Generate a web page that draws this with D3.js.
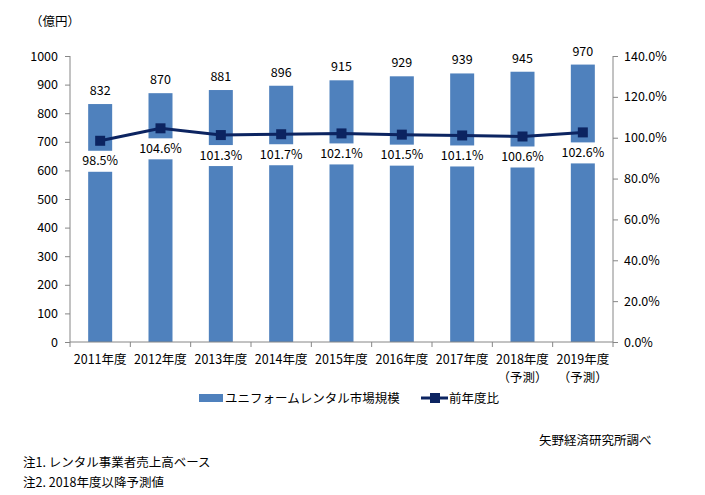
<!DOCTYPE html>
<html><head><meta charset="utf-8">
<script src="https://cdn.jsdelivr.net/npm/d3@7"></script>
<style>body{margin:0;background:#fff}svg{display:block}text{font-family:"Noto Sans CJK JP","Noto Sans",sans-serif;fill:#000}</style>
</head><body><svg id="c" width="705" height="495"></svg>
<script>
const categories=["2011年度","2012年度","2013年度","2014年度","2015年度","2016年度","2017年度","2018年度","2019年度"];
const subLabels=["","","","","","","","（予測）","（予測）"];
const marketSize=[832,870,881,896,915,929,939,945,970];
const yoyRatio=[98.5,104.6,101.3,101.7,102.1,101.5,101.1,100.6,102.6];
const leftTicks=[0,100,200,300,400,500,600,700,800,900,1000];
const rightTicks=[0,20,40,60,80,100,120,140];
const seriesNames=["ユニフォームレンタル市場規模","前年度比"];

const svg=d3.select("#c");
const L=70,R=613,T=56,B=342;
const barColor="#4f81bd",lineColor="#0c2461",axisColor="#868686";
const x=d3.scaleBand().domain(categories).range([L,R]).paddingInner(0).paddingOuter(0);
const yL=d3.scaleLinear().domain([0,1000]).range([B,T]);
const yR=d3.scaleLinear().domain([0,140]).range([B,T]);
const bw=24;

// axes
const gl=svg.append("g").attr("transform",`translate(${L},0)`).call(d3.axisLeft(yL).tickValues(leftTicks).tickSize(5).tickPadding(7).tickFormat(d=>String(d)));
const gr=svg.append("g").attr("transform",`translate(${R},0)`).call(d3.axisRight(yR).tickValues(rightTicks).tickSize(5).tickPadding(6).tickFormat(d=>d.toFixed(1)+"%"));
[gl,gr].forEach(g=>{g.selectAll("path,line").attr("stroke",axisColor);g.selectAll("text").attr("font-size",12.5).attr("font-family","'Noto Sans CJK JP',sans-serif").attr("fill","#000");});
gl.select(".domain").attr("d",`M0,${B}V${T}`);
gr.select(".domain").attr("d",`M0,${B}V${T}`);

// bars
svg.append("g").selectAll("rect").data(marketSize).join("rect")
  .attr("x",(d,i)=>x(categories[i])+x.bandwidth()/2-bw/2).attr("width",bw)
  .attr("y",d=>yL(d)).attr("height",d=>B-yL(d)).attr("fill",barColor);

// bottom axis
const gb=svg.append("g").attr("transform",`translate(0,${B})`);
gb.append("line").attr("x1",L).attr("x2",R).attr("stroke",axisColor);
const bounds=categories.map(c=>x(c)).concat([R]);
gb.selectAll("line.t").data(bounds).join("line").attr("class","t").attr("x1",d=>d).attr("x2",d=>d).attr("y1",0).attr("y2",5).attr("stroke",axisColor);
gb.selectAll("text.c").data(categories).join("text").attr("class","c")
  .attr("x",d=>x(d)+x.bandwidth()/2).attr("y",22).attr("text-anchor","middle").attr("font-size",12.5).text(d=>d);
gb.selectAll("text.s").data(subLabels).join("text").attr("class","s")
  .attr("x",(d,i)=>x(categories[i])+x.bandwidth()/2).attr("y",40).attr("text-anchor","middle").attr("font-size",12.5).text(d=>d);

// bar value labels
svg.append("g").selectAll("text").data(marketSize).join("text")
  .attr("x",(d,i)=>x(categories[i])+x.bandwidth()/2).attr("y",d=>yL(d)-9)
  .attr("text-anchor","middle").attr("font-size",12.5).text(d=>d);

// line
const px=(d,i)=>x(categories[i])+x.bandwidth()/2;
svg.append("path").datum(yoyRatio).attr("fill","none").attr("stroke",lineColor).attr("stroke-width",3)
  .attr("d",d3.line().x(px).y(d=>yR(d)));

// pct labels with white boxes
const pl=svg.append("g").selectAll("g").data(yoyRatio).join("g")
  .attr("transform",(d,i)=>`translate(${px(d,i)},${yR(d)+20})`);
pl.append("rect").attr("x",-28).attr("y",-10).attr("width",56).attr("height",21).attr("fill","#fff");
pl.append("text").attr("text-anchor","middle").attr("dy","0.36em").attr("font-size",12.5).text(d=>d.toFixed(1)+"%");

svg.append("g").selectAll("rect").data(yoyRatio).join("rect")
  .attr("x",(d,i)=>px(d,i)-5).attr("y",d=>yR(d)-5).attr("width",10).attr("height",10).attr("fill",lineColor);

// unit label
svg.append("text").attr("x",30).attr("y",26).attr("font-size",12.5).text("（億円）");

// legend
svg.append("rect").attr("x",199).attr("y",394).attr("width",24).attr("height",8).attr("fill",barColor);
svg.append("text").attr("x",225).attr("y",402.5).attr("font-size",12.5).text(seriesNames[0]);
svg.append("line").attr("x1",421).attr("x2",448).attr("y1",398).attr("y2",398).attr("stroke",lineColor).attr("stroke-width",3);
svg.append("rect").attr("x",430).attr("y",393).attr("width",10).attr("height",10).attr("fill",lineColor);
svg.append("text").attr("x",449).attr("y",402.5).attr("font-size",12.5).text(seriesNames[1]);

// notes
svg.append("text").attr("x",539).attr("y",445).attr("font-size",12.5).text("矢野経済研究所調べ");
svg.append("text").attr("x",23).attr("y",467).attr("font-size",12.5).text("注1. レンタル事業者売上高ベース");
svg.append("text").attr("x",23).attr("y",487).attr("font-size",12.5).text("注2. 2018年度以降予測値");
</script></body></html>
